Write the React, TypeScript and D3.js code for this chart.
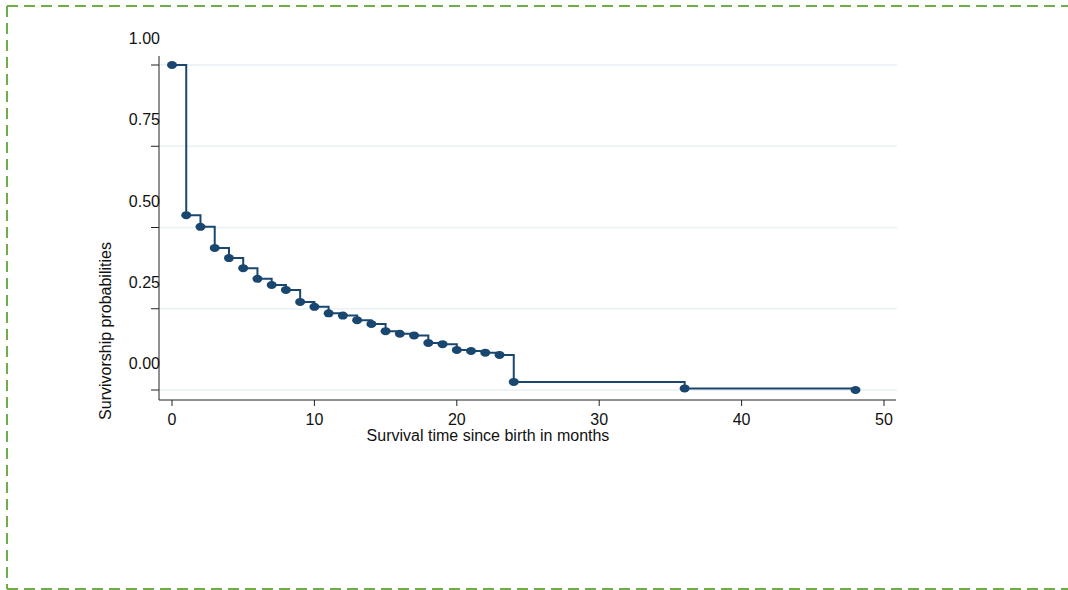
import React from "react";
import { scaleLinear, line, curveStepAfter } from "d3";

// survival time (months) and KM survivorship estimate
const months = [0, 1, 2, 3, 4, 5, 6, 7, 8, 9, 10, 11, 12, 13, 14, 15, 16, 17, 18, 19, 20, 21, 22, 23, 24, 36, 48];
const survival = [
  1.0, 0.538, 0.502, 0.437, 0.406, 0.375, 0.342, 0.323, 0.308, 0.271, 0.256, 0.236, 0.229, 0.215, 0.203,
  0.181, 0.173, 0.168, 0.145, 0.141, 0.123, 0.12, 0.115, 0.108, 0.025, 0.005, 0.0,
];
const yTicks = [0, 0.25, 0.5, 0.75, 1];
const xTicks = [0, 10, 20, 30, 40, 50];

const navy = "#1a476f";
const grid = "#e9f1f3";
const font = "Liberation Sans, Arial, sans-serif";

const App = () => {
  const x = scaleLinear().domain([0, 50]).range([172, 884]);
  const y = scaleLinear().domain([0, 1]).range([390, 65]);

  const pts: [number, number][] = months.map((m, i) => [m, survival[i]]);
  const path = line<[number, number]>()
    .x((d) => x(d[0]))
    .y((d) => y(d[1]))
    .curve(curveStepAfter)(pts);

  return (
    <svg
      width={1068}
      height={590}
      style={{ position: "absolute", left: 0, top: 0, background: "#fff" }}
    >
      {/* dashed frame */}
      <g stroke="#6fad46" strokeWidth={2} strokeDasharray="11,6" fill="none">
        <line x1={7} y1={6} x2={1068} y2={6} />
        <line x1={7} y1={6} x2={7} y2={589} />
        <line x1={7} y1={589} x2={1068} y2={589} />
      </g>

      {/* gridlines */}
      {yTicks.map((t) => (
        <line key={"g" + t} x1={159} x2={897} y1={y(t)} y2={y(t)} stroke={grid} strokeWidth={1.5} />
      ))}

      {/* axes */}
      <line x1={159} x2={159} y1={56} y2={400} stroke="#222" strokeWidth={1} />
      <line x1={159} x2={896} y1={400} y2={400} stroke="#222" strokeWidth={1} />

      {yTicks.map((t) => (
        <g key={"y" + t}>
          <line x1={151} x2={159} y1={y(t)} y2={y(t)} stroke="#222" />
          <text
            x={160}
            y={y(t) - 21}
            textAnchor="end"
            fontFamily={font}
            fontSize={16}
            fill="#111"
          >
            {t.toFixed(2)}
          </text>
        </g>
      ))}

      {xTicks.map((t) => (
        <g key={"x" + t}>
          <line x1={x(t)} x2={x(t)} y1={400} y2={406} stroke="#222" />
          <text x={x(t)} y={425} textAnchor="middle" fontFamily={font} fontSize={16} fill="#111">
            {t}
          </text>
        </g>
      ))}

      <text x={488} y={441} textAnchor="middle" fontFamily={font} fontSize={16} fill="#111">
        Survival time since birth in months
      </text>
      <text
        transform="translate(111,331) rotate(-90)"
        textAnchor="middle"
        fontFamily={font}
        fontSize={16}
        fill="#111"
      >
        Survivorship probabilities
      </text>

      {/* KM step curve */}
      <path d={path ?? ""} fill="none" stroke={navy} strokeWidth={2} />
      {pts.map((d, i) => (
        <ellipse key={i} cx={x(d[0])} cy={y(d[1])} rx={5} ry={4} fill={navy} />
      ))}
    </svg>
  );
};

export default App;
